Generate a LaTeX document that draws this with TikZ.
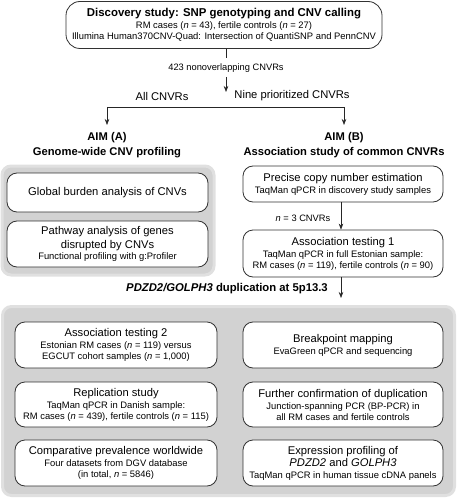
\documentclass[tikz,border=0pt]{standalone}
\usepackage{fontspec}
\setmainfont{Liberation Sans}
\usetikzlibrary{arrows.meta}
\definecolor{panelgray}{RGB}{210,210,210}
\definecolor{panelhalo}{RGB}{224,224,224}
\definecolor{edgegray}{RGB}{50,50,50}
\newcommand\subt[1]{{\fontsize{9.4}{10.5}\selectfont #1}}
\tikzset{
  box/.style={draw=edgegray, line width=0.8pt, rounded corners=10pt, fill=white,
    align=center, inner sep=0pt, font=\fontsize{11.2}{13.5}\selectfont},
  panelbox/.style={fill=panelgray, rounded corners=9pt, inner sep=0pt,
    draw=panelhalo, line width=3pt},
  lbl/.style={inner sep=0pt, font=\fontsize{9.3}{11}\selectfont},
  lblbig/.style={inner sep=0pt, font=\fontsize{11.2}{13}\selectfont},
  aim/.style={inner sep=0pt, align=center, font=\fontsize{11.2}{15}\selectfont\bfseries},
  arr/.style={-{Stealth[length=6pt,width=4.5pt]}, line width=0.6pt, draw=black!85},
  ln/.style={line width=0.6pt, draw=black!85}
}
\begin{document}
\begin{tikzpicture}[x=1pt,y=-1pt]
\useasboundingbox (0,0) rectangle (458,500);
% grey panels
\node[panelbox, minimum width=212pt, minimum height=109pt] (pA) at (108,220.5) {};
\node[panelbox, minimum width=452pt, minimum height=189pt] (pC) at (228.5,401) {};
% discovery box
\node[box, rounded corners=14pt, minimum width=316pt, minimum height=47pt] (disc) at (224,25)
  {{\fontsize{11.4}{13}\selectfont\bfseries Discovery study: SNP genotyping and CNV calling}\\[-1pt]
   \subt{RM cases (\textit{n} = 43), fertile controls (\textit{n} = 27)}\\[-2.5pt]
   \subt{Illumina Human370CNV-Quad: Intersection of QuantiSNP and PennCNV}};
\coordinate (t1) at (226,58);
\coordinate (t2) at (226,77);
\coordinate (split) at (226,92);
\node[lbl] (l423) at (226,68) {423 nonoverlapping CNVRs};
\draw[ln] (disc.south -| t1) -- (t1);
\draw[arr] (t2) -- (split);
\node[lblbig] (allc) at (162,96) {All CNVRs};
\node[lblbig] (nine) at (292,96) {Nine prioritized CNVRs};
\coordinate (hl) at (107,107);
\coordinate (hr) at (344,107);
\coordinate (al) at (107,125);
\coordinate (ar) at (344,125);
\draw[ln] (hl) -- (hr);
\draw[arr] (hl) -- (al);
\draw[arr] (hr) -- (ar);
\node[aim] (aimA) at (107,145.5) {AIM (A)\\Genome-wide CNV profiling};
\node[aim] (aimB) at (344,145.5) {AIM (B)\\Association study of common CNVRs};
% aim A boxes
\node[box, minimum width=201pt, minimum height=39pt] (glob) at (107.5,192.5)
  {Global burden analysis of CNVs};
\node[box, minimum width=201pt, minimum height=46pt] (path) at (107.5,244)
  {Pathway analysis of genes\\disrupted by CNVs\\[-2pt]\subt{Functional profiling with g:Profiler}};
% aim B boxes
\node[box, minimum width=200pt, minimum height=36pt] (prec) at (343,184)
  {Precise copy number estimation\\[-1.5pt]\subt{TaqMan qPCR in discovery study samples}};
\node[box, minimum width=200pt, minimum height=47pt] (asc1) at (343,253.5)
  {Association testing 1\\[-1.5pt]\subt{TaqMan qPCR in full Estonian sample:}\\[-2.5pt]\subt{RM cases (\textit{n} = 119), fertile controls (\textit{n} = 90)}};
\draw[arr] (prec.south -| 341,0) -- (asc1.north -| 341,0);
\node[lbl] (n3) at (303,218) {\textit{n} = 3 CNVRs};
\coordinate (dupend) at (341,298);
\draw[arr] (asc1.south -| 341,0) -- (dupend);
\node[lblbig, font=\fontsize{11.3}{13}\selectfont\bfseries] (dup) at (227,289)
  {\textit{PDZD2/GOLPH3} duplication at 5p13.3};
% bottom boxes
\node[box, minimum width=202pt, minimum height=46pt] (asc2) at (116,345)
  {Association testing 2\\[-1.5pt]\subt{Estonian RM cases (\textit{n} = 119) versus}\\[-2.5pt]\subt{EGCUT cohort samples (\textit{n} = 1,000)}};
\node[box, minimum width=202pt, minimum height=45pt] (repl) at (116,404.5)
  {Replication study\\[-1.5pt]\subt{TaqMan qPCR in Danish sample:}\\[-2.5pt]\subt{RM cases (\textit{n} = 439), fertile controls (\textit{n} = 115)}};
\node[box, minimum width=202pt, minimum height=46pt] (comp) at (116,463)
  {Comparative prevalence worldwide\\[-1.5pt]\subt{Four datasets from DGV database}\\[-2.5pt]\subt{(in total, \textit{n} = 5846)}};
\node[box, minimum width=200pt, minimum height=46pt] (brk) at (343,345)
  {Breakpoint mapping\\[-1.5pt]\subt{EvaGreen qPCR and sequencing}};
\node[box, minimum width=200pt, minimum height=45pt] (conf) at (343,404.5)
  {Further confirmation of duplication\\[-1.5pt]\subt{Junction-spanning PCR (BP-PCR) in}\\[-2.5pt]\subt{all RM cases and fertile controls}};
\node[box, minimum width=200pt, minimum height=46pt] (expr) at (343,463)
  {Expression profiling of\\[-1pt]\textit{PDZD2} and \textit{GOLPH3}\\[-2pt]\subt{TaqMan qPCR in human tissue cDNA panels}};
\end{tikzpicture}
\end{document}
